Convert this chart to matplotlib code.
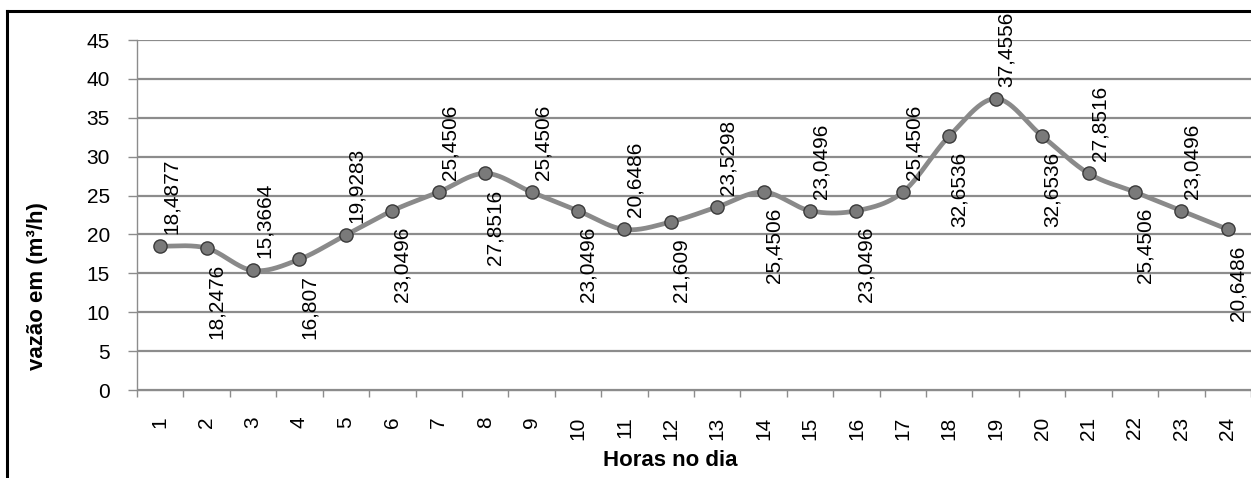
import numpy as np
import matplotlib
matplotlib.use("Agg")
import matplotlib.pyplot as plt
from matplotlib.lines import Line2D

# Vazão horária ao longo do dia
horas = list(range(1, 25))
vazao = [18.4877, 18.2476, 15.3664, 16.807, 19.9283, 23.0496, 25.4506, 27.8516,
         25.4506, 23.0496, 20.6486, 21.609, 23.5298, 25.4506, 23.0496, 23.0496,
         25.4506, 32.6536, 37.4556, 32.6536, 27.8516, 25.4506, 23.0496, 20.6486]
y_ticks = [0, 5, 10, 15, 20, 25, 30, 35, 40, 45]

W, H = 1251, 478
plt.rcParams['font.family'] = ['Liberation Sans', 'DejaVu Sans']

fig = plt.figure(figsize=(W / 100, H / 100), dpi=100)
fig.patch.set_facecolor('white')

# plot area in pixels: left 137, top 40, right 1251, bottom 390
ax = fig.add_axes([137 / W, (H - 390) / H, (W - 137) / W, 350 / H])

GRID = '#8c8c8c'
LINE = '#8a8a8a'

ax.set_xlim(0.5, 24.5)
ax.set_ylim(0, 45)
ax.set_yticks(y_ticks)
ax.set_yticklabels([str(v) for v in y_ticks], fontsize=15)
ax.yaxis.grid(True, color=GRID, linewidth=1.6)
ax.set_axisbelow(True)

for side in ('top', 'right'):
    ax.spines[side].set_visible(False)
for side in ('left', 'bottom'):
    ax.spines[side].set_color(GRID)
    ax.spines[side].set_linewidth(1.0)

ax.tick_params(axis='y', length=6.5, width=1.0, color=GRID, pad=13)

# category boundaries as tick marks, labels centred on each hour
ax.set_xticks(np.arange(0.5, 25, 1))
ax.set_xticklabels([])
ax.tick_params(axis='x', which='major', length=5, width=1.0, color=GRID)
ax.set_xticks(horas, minor=True)
ax.set_xticklabels([str(h) for h in horas], minor=True, rotation=90,
                   fontsize=15, family=['Liberation Sans Narrow', 'Liberation Sans'],
                   va='top', ha='center')
ax.tick_params(axis='x', which='minor', length=0, pad=19)


def suavizar(xs, ys, passos=40):
    """Curva suavizada (Bezier tipo Catmull-Rom) passando pelos pontos."""
    p = np.column_stack([xs, ys]).astype(float)
    ext = np.vstack([p[0], p, p[-1]])
    out = []
    t = np.linspace(0, 1, passos)[:, None]
    for i in range(len(p) - 1):
        p0, p1, p2, p3 = ext[i], ext[i + 1], ext[i + 2], ext[i + 3]
        c1 = p1 + (p2 - p0) / 6
        c2 = p2 - (p3 - p1) / 6
        seg = ((1 - t) ** 3) * p1 + 3 * ((1 - t) ** 2) * t * c1 \
            + 3 * (1 - t) * t ** 2 * c2 + t ** 3 * p2
        out.append(seg if i == 0 else seg[1:])
    out = np.vstack(out)
    return out[:, 0], out[:, 1]


cx, cy = suavizar(horas, vazao)
ax.plot(cx, cy, color=LINE, linewidth=3.4, solid_capstyle='round', zorder=3)
ax.plot(horas, vazao, linestyle='none', marker='o', markersize=9.5,
        markerfacecolor='#7a7a7a', markeredgecolor='#3a3a3a',
        markeredgewidth=1.0, zorder=4)

# value labels, alternating above / below the points
for i, (h, v) in enumerate(zip(horas, vazao)):
    txt = str(v).replace('.', ',')
    if i % 2 == 0:
        ax.annotate(txt, xy=(h, v), xytext=(11, 12), textcoords='offset pixels',
                    rotation=90, ha='center', va='bottom', fontsize=15, zorder=5)
    else:
        ax.annotate(txt, xy=(h, v), xytext=(10, -16), textcoords='offset pixels',
                    rotation=90, ha='center', va='top', fontsize=15, zorder=5)

fig.text(670 / W, 1 - 460 / H, 'Horas no dia', fontsize=16, fontweight='bold',
         ha='center', va='center')
fig.text(38 / W, 1 - 286 / H, 'vazão em (m³/h)', fontsize=16, fontweight='bold',
         rotation=90, ha='center', va='center')

# chart frame
fig.add_artist(Line2D([7 / W, 7 / W], [0, 1 - 11 / H], color='black',
                      linewidth=2.2, transform=fig.transFigure))
fig.add_artist(Line2D([7 / W, 1], [1 - 11 / H, 1 - 11 / H], color='black',
                      linewidth=2.2, transform=fig.transFigure))

fig.savefig('out.png', dpi=100, facecolor='white')
